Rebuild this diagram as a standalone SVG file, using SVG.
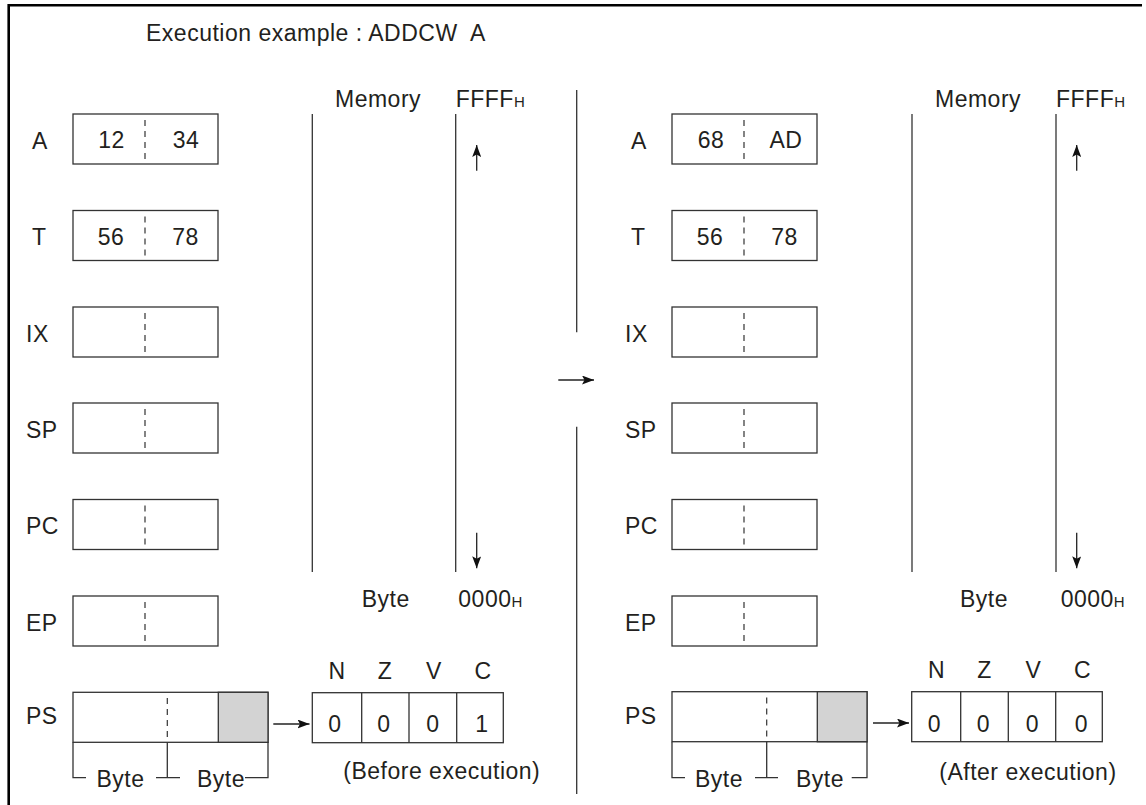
<svg xmlns="http://www.w3.org/2000/svg" width="1146" height="805" viewBox="0 0 1146 805">
<defs>
<style>
text{font-family:"Liberation Sans",Arial,sans-serif;font-size:23px;letter-spacing:0.5px;fill:#231f20}
.m{text-anchor:middle}
.sub{font-size:15px;letter-spacing:0}
.box{fill:#fff;stroke:#333;stroke-width:1.3}
.gray{fill:#d3d3d3;stroke:#333;stroke-width:1.3}
.dash{stroke:#333;stroke-width:1.2;stroke-dasharray:6 5;fill:none}
.ln{stroke:#333;stroke-width:1.3;fill:none}
.arr{stroke:#222;stroke-width:1.3;fill:none;marker-end:url(#ah)}
.border{stroke:#000;stroke-width:2.6;fill:none}
</style>
<marker id="ah" viewBox="0 0 12 9" refX="12" refY="4.5" markerWidth="12" markerHeight="9" markerUnits="userSpaceOnUse" orient="auto">
<path d="M0,0 L12,4.5 L0,9 L2.5,4.5 Z" fill="#111"/>
</marker>
</defs>
<rect width="1146" height="805" fill="#fff"/>
<path class="border" d="M8.7,805 V5.3 H1142"/>
<text x="146" y="41">Execution example : ADDCW&#160; A</text>

<!-- BEFORE -->
<g id="reg-A-before"><text x="32" y="149">A</text><rect class="box" x="73" y="114" width="145" height="50"/><line class="dash" x1="145" y1="120" x2="145" y2="160"/><text class="m" x="111.5" y="148">12</text><text class="m" x="186" y="148">34</text></g>
<g id="reg-T-before"><text x="32" y="245">T</text><rect class="box" x="73" y="210.5" width="145" height="50"/><line class="dash" x1="145" y1="216.5" x2="145" y2="256.5"/><text class="m" x="111" y="244.5">56</text><text class="m" x="185.5" y="244.5">78</text></g>
<g id="reg-IX-before"><text x="26" y="342">IX</text><rect class="box" x="73" y="307" width="145" height="50"/><line class="dash" x1="145" y1="313" x2="145" y2="353"/></g>
<g id="reg-SP-before"><text x="26" y="438">SP</text><rect class="box" x="73" y="403" width="145" height="50"/><line class="dash" x1="145" y1="409" x2="145" y2="449"/></g>
<g id="reg-PC-before"><text x="26" y="534">PC</text><rect class="box" x="73" y="499.5" width="145" height="50"/><line class="dash" x1="145" y1="505.5" x2="145" y2="545.5"/></g>
<g id="reg-EP-before"><text x="26" y="631">EP</text><rect class="box" x="73" y="596" width="145" height="50"/><line class="dash" x1="145" y1="602" x2="145" y2="642"/></g>
<g id="reg-PS-before"><text x="26" y="724">PS</text><rect class="box" x="73" y="692.3" width="195" height="50"/><rect class="gray" x="218.3" y="692.3" width="49.7" height="50"/><line class="dash" x1="167.3" y1="698" x2="167.3" y2="738"/>
<path class="ln" d="M73,742.3 V777.7 H86 M167.3,742.3 V777.7 M156,777.7 H180 M268,742.3 V777.7 H245"/>
<text class="m" x="120.5" y="786.5">Byte</text><text class="m" x="221" y="786.5">Byte</text></g>
<g id="memory-before"><text x="335" y="106.7">Memory</text><text x="455.7" y="106.7">FFFF<tspan class="sub">H</tspan></text>
<line class="ln" x1="312.3" y1="114" x2="312.3" y2="572"/><line class="ln" x1="455.7" y1="114" x2="455.7" y2="572"/>
<text x="361.7" y="606.7">Byte</text><text x="458.3" y="606.7">0000<tspan class="sub">H</tspan></text></g>
<g id="flags-before"><text class="m" x="337" y="679">N</text><text class="m" x="385" y="679">Z</text><text class="m" x="434" y="679">V</text><text class="m" x="483" y="679">C</text>
<rect class="box" x="312.3" y="692.7" width="191" height="50"/><path class="ln" d="M361.7,692.7 V742.7 M409,692.7 V742.7 M456.7,692.7 V742.7"/>
<text class="m" x="335" y="731.7">0</text><text class="m" x="384" y="731.7">0</text><text class="m" x="433" y="731.7">0</text><text class="m" x="482" y="731.7">1</text>
<text x="343.3" y="779">(Before execution)</text></g>

<!-- divider -->
<g id="divider"><line class="ln" x1="576.7" y1="90" x2="576.7" y2="332.3"/><line class="ln" x1="576.7" y1="426.7" x2="576.7" y2="794"/></g>

<!-- AFTER -->
<g id="reg-A-after"><text x="631" y="149">A</text><rect class="box" x="672" y="114" width="145" height="50"/><line class="dash" x1="744" y1="120" x2="744" y2="160"/><text class="m" x="711" y="148">68</text><text class="m" x="786" y="148">AD</text></g>
<g id="reg-T-after"><text x="631" y="245">T</text><rect class="box" x="672" y="210.5" width="145" height="50"/><line class="dash" x1="744" y1="216.5" x2="744" y2="256.5"/><text class="m" x="710" y="244.5">56</text><text class="m" x="784.5" y="244.5">78</text></g>
<g id="reg-IX-after"><text x="625" y="342">IX</text><rect class="box" x="672" y="307" width="145" height="50"/><line class="dash" x1="744" y1="313" x2="744" y2="353"/></g>
<g id="reg-SP-after"><text x="625" y="438">SP</text><rect class="box" x="672" y="403" width="145" height="50"/><line class="dash" x1="744" y1="409" x2="744" y2="449"/></g>
<g id="reg-PC-after"><text x="625" y="534">PC</text><rect class="box" x="672" y="499.5" width="145" height="50"/><line class="dash" x1="744" y1="505.5" x2="744" y2="545.5"/></g>
<g id="reg-EP-after"><text x="625" y="631">EP</text><rect class="box" x="672" y="596" width="145" height="50"/><line class="dash" x1="744" y1="602" x2="744" y2="642"/></g>
<g id="reg-PS-after"><text x="625" y="724">PS</text><rect class="box" x="672" y="691.7" width="195" height="50"/><rect class="gray" x="817.3" y="691.7" width="49.7" height="50"/><line class="dash" x1="766.7" y1="697.5" x2="766.7" y2="737.5"/>
<path class="ln" d="M672,741.7 V777.7 H685 M766.7,741.7 V777.7 M755,777.7 H778 M867,741.7 V777.7 H851.7"/>
<text class="m" x="719" y="786.5">Byte</text><text class="m" x="820" y="786.5">Byte</text></g>
<g id="memory-after"><text x="935" y="106.7">Memory</text><text x="1056" y="107">FFFF<tspan class="sub">H</tspan></text>
<line class="ln" x1="912" y1="114" x2="912" y2="572"/><line class="ln" x1="1056" y1="114" x2="1056" y2="572"/>
<text x="960" y="607">Byte</text><text x="1060.7" y="607">0000<tspan class="sub">H</tspan></text></g>
<g id="flags-after"><text class="m" x="936.5" y="678">N</text><text class="m" x="984.5" y="678">Z</text><text class="m" x="1033.5" y="678">V</text><text class="m" x="1082.5" y="678">C</text>
<rect class="box" x="911.7" y="691.7" width="190.6" height="50"/><path class="ln" d="M960.7,691.7 V741.7 M1008.3,691.7 V741.7 M1055.7,691.7 V741.7"/>
<text class="m" x="934.5" y="731.7">0</text><text class="m" x="983.5" y="731.7">0</text><text class="m" x="1032.5" y="731.7">0</text><text class="m" x="1081.5" y="731.7">0</text>
<text x="939.3" y="780">(After execution)</text></g>

<g id="connectors">
<line class="arr" x1="273.3" y1="724" x2="309.5" y2="724"/>
<line class="arr" x1="873" y1="723" x2="909" y2="723"/>
<line class="arr" x1="558.3" y1="380" x2="594" y2="380"/>
<line class="arr" x1="476.7" y1="170.7" x2="476.7" y2="145"/>
<line class="arr" x1="476.7" y1="532.7" x2="476.7" y2="568.3"/>
<line class="arr" x1="1076.7" y1="170.7" x2="1076.7" y2="145"/>
<line class="arr" x1="1076.7" y1="532.7" x2="1076.7" y2="568.3"/>
</g>
</svg>
